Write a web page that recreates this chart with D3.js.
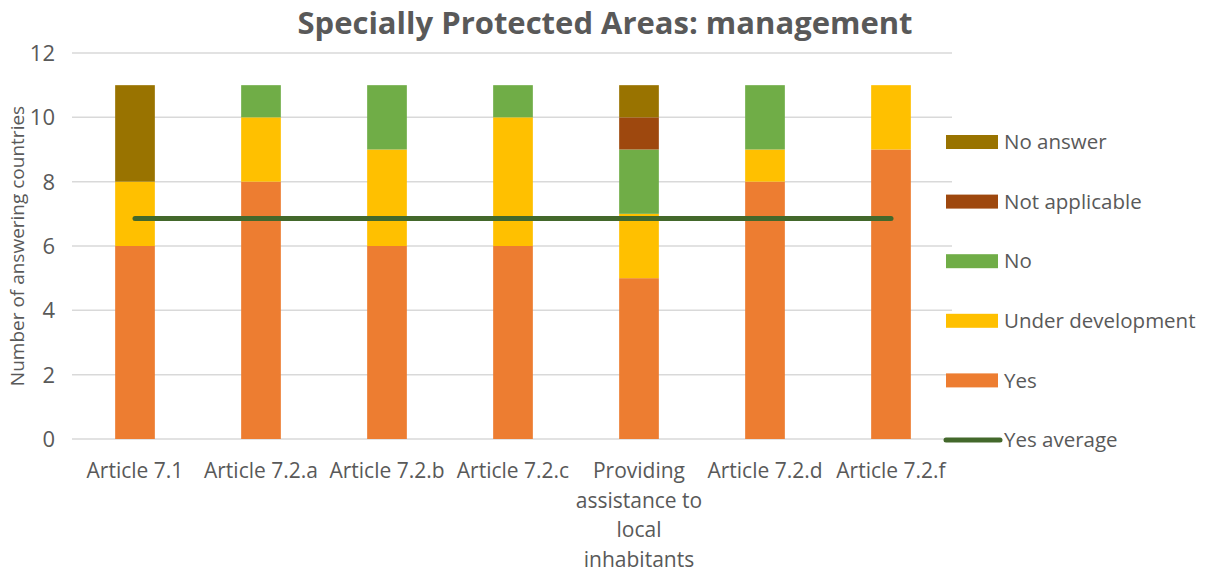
<!DOCTYPE html>
<html>
<head>
<meta charset="utf-8">
<script src="https://cdn.jsdelivr.net/npm/d3@7"></script>
<style>
  body { margin: 0; background: #fff; }
  text { font-family: "Open Sans", "Noto Sans", sans-serif; fill: #595959; }
</style>
</head>
<body>
<div class="chart"></div>
<script>
// chart data
const categories = [
   "Article 7.1",
   "Article 7.2.a",
   "Article 7.2.b",
   "Article 7.2.c",
   "Providing assistance to local inhabitants",
   "Article 7.2.d",
   "Article 7.2.f"
];
// label lines for the wrapped category
const categoryLines = [
   ["Article 7.1"],
   ["Article 7.2.a"],
   ["Article 7.2.b"],
   ["Article 7.2.c"],
   ["Providing", "assistance to", "local", "inhabitants"],
   ["Article 7.2.d"],
   ["Article 7.2.f"]
];
const yes = [6, 8, 6, 6, 5, 8, 9];
const underDevelopment = [2, 2, 3, 4, 2, 1, 2];
const no = [0, 1, 2, 1, 2, 2, 0];
const notApplicable = [0, 0, 0, 0, 1, 0, 0];
const noAnswer = [3, 0, 0, 0, 1, 0, 0];
const yTicks = [0, 2, 4, 6, 8, 10, 12];

const seriesNames = ["Yes", "Under development", "No", "Not applicable", "No answer"];
const seriesValues = [yes, underDevelopment, no, notApplicable, noAnswer];
const seriesColors = ["#ED7D31", "#FFC000", "#70AD47", "#9E480E", "#997300"];
const avgColor = "#43682B";

// setup chart
const width = 1210;
const height = 571;
const svg = d3.select(".chart").append("svg").attr("width", width).attr("height", height);

const x = d3.scaleBand().domain(categories).range([72, 954]).paddingInner(0).paddingOuter(0);
const y = d3.scaleLinear().domain([0, 12]).range([439, 53]);
const barWidth = x.bandwidth() * 0.315;

// gridlines
svg.append("g")
   .selectAll("line")
   .data(yTicks)
   .enter()
   .append("line")
   .attr("x1", 72)
   .attr("x2", 952)
   .attr("y1", (d) => y(d))
   .attr("y2", (d) => y(d))
   .attr("stroke", "#D9D9D9")
   .attr("stroke-width", 1.5);

// y tick labels
svg.append("g")
   .selectAll("text")
   .data(yTicks)
   .enter()
   .append("text")
   .attr("x", 55)
   .attr("y", (d) => y(d))
   .attr("dy", "0.36em")
   .attr("text-anchor", "end")
   .style("font-size", "22px")
   .text((d) => d);

// stacked bars
const table = categories.map((c, i) => {
   const row = { category: c };
   seriesNames.forEach((s, j) => (row[s] = seriesValues[j][i]));
   return row;
});
const stack = d3.stack().keys(seriesNames)(table);

svg.append("g")
   .selectAll("g")
   .data(stack)
   .enter()
   .append("g")
   .attr("fill", (d, i) => seriesColors[i])
   .selectAll("rect")
   .data((d) => d.filter((p) => p[1] > p[0]))
   .enter()
   .append("rect")
   .attr("x", (d) => x(d.data.category) + (x.bandwidth() - barWidth) / 2)
   .attr("y", (d) => y(d[1]))
   .attr("width", barWidth)
   .attr("height", (d) => y(d[0]) - y(d[1]));

// yes average line
const avg = d3.mean(yes);
svg.append("path")
   .datum(categories)
   .attr("fill", "none")
   .attr("stroke", avgColor)
   .attr("stroke-width", 5)
   .attr("stroke-linecap", "round")
   .attr("d", d3.line().x((d) => x(d) + x.bandwidth() / 2).y(() => y(avg)));

// x labels
const xl = svg.append("g")
   .selectAll("text")
   .data(categories)
   .enter()
   .append("text")
   .attr("x", (d) => x(d) + x.bandwidth() / 2)
   .attr("y", 478)
   .attr("text-anchor", "middle")
   .style("font-size", "21px");
xl.selectAll("tspan")
   .data((d, i) => categoryLines[i])
   .enter()
   .append("tspan")
   .attr("x", function () { return this.parentNode.getAttribute("x"); })
   .attr("dy", (d, i) => (i === 0 ? 0 : 29.5))
   .text((d) => d);

// y axis title
svg.append("text")
   .attr("transform", `translate(24, ${(y(0) + y(12)) / 2}) rotate(-90)`)
   .attr("text-anchor", "middle")
   .style("font-size", "19px")
   .text("Number of answering countries");

// title
svg.append("text")
   .attr("x", 605)
   .attr("y", 34)
   .attr("text-anchor", "middle")
   .style("font-size", "31px")
   .style("font-weight", "bold")
   .text("Specially Protected Areas: management");

// legend
const legendItems = seriesNames.slice().reverse().concat(["Yes average"]);
const legend = svg.append("g").attr("id", "legend");
const rows = legend
   .selectAll("g")
   .data(legendItems)
   .enter()
   .append("g")
   .attr("transform", (d, i) => `translate(946, ${142 + i * 59.6})`);
rows.filter((d) => d !== "Yes average")
   .append("rect")
   .attr("y", -7)
   .attr("width", 52)
   .attr("height", 14)
   .attr("fill", (d) => seriesColors[seriesNames.indexOf(d)]);
rows.filter((d) => d === "Yes average")
   .append("line")
   .attr("x1", 0)
   .attr("x2", 54)
   .attr("stroke", avgColor)
   .attr("stroke-width", 5)
   .attr("stroke-linecap", "round");
rows.append("text")
   .attr("x", 58)
   .attr("dy", "0.35em")
   .style("font-size", "20.5px")
   .text((d) => d);
</script>
</body>
</html>
